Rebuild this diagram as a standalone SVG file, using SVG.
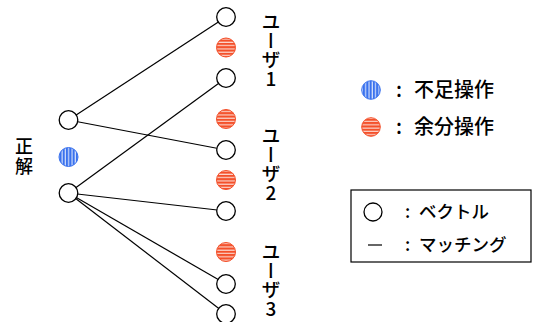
<svg xmlns="http://www.w3.org/2000/svg" width="533" height="322" viewBox="0 0 533 322">
<defs>
<pattern id="hstripe" width="4" height="3.3" patternUnits="userSpaceOnUse">
<rect width="4" height="3.3" fill="#f4502a"/>
<rect y="2.2" width="4" height="0.9" fill="#ffffff"/>
</pattern>
<pattern id="vstripe" width="3.3" height="4" patternUnits="userSpaceOnUse">
<rect width="3.3" height="4" fill="#3a72ee"/>
<rect x="2.2" width="0.9" height="4" fill="#ffffff"/>
</pattern>
</defs>
<style>
.vec{fill:#ffffff;stroke:#000000;stroke-width:1.3}
.red{fill:url(#hstripe);stroke:#f4502a;stroke-width:1}
.blue{fill:url(#vstripe);stroke:#3a72ee;stroke-width:1}
.conn line{stroke:#000000;stroke-width:1.2}
.t{font-family:"Noto Sans CJK JP","Liberation Sans",sans-serif;font-weight:500;fill:#000000}
.vt{font-family:"Noto Sans CJK JP","Liberation Sans",sans-serif;font-weight:500;font-size:19px;writing-mode:vertical-rl;text-orientation:upright;fill:#000000}
</style>
<rect width="533" height="322" fill="#ffffff"/>
<g id="connectors" class="conn">
<line x1="68.5" y1="120" x2="226" y2="17"/>
<line x1="68.5" y1="120" x2="226" y2="150"/>
<line x1="68.5" y1="193" x2="226" y2="78"/>
<line x1="68.5" y1="193" x2="226" y2="211"/>
<line x1="68.5" y1="193" x2="226" y2="284"/>
<line x1="68.5" y1="193" x2="226" y2="314"/>
</g>
<g id="answer-label"><text class="vt" style="font-size:18px;letter-spacing:2px" x="24" y="137">正解</text></g>
<g id="L1"><circle class="vec" cx="68.5" cy="120" r="9.3"/></g>
<g id="L-missing"><circle class="blue" cx="68.5" cy="157" r="9.5"/></g>
<g id="L2"><circle class="vec" cx="68.5" cy="193" r="9.3"/></g>
<g id="R1"><circle class="vec" cx="226" cy="17" r="9.3"/></g>
<g id="R-extra1"><circle class="red" cx="226" cy="47.5" r="9.5"/></g>
<g id="R2"><circle class="vec" cx="226" cy="78" r="9.3"/></g>
<g id="R-extra2"><circle class="red" cx="226" cy="119" r="9.5"/></g>
<g id="R3"><circle class="vec" cx="226" cy="150" r="9.3"/></g>
<g id="R-extra3"><circle class="red" cx="226" cy="180" r="9.5"/></g>
<g id="R4"><circle class="vec" cx="226" cy="211" r="9.3"/></g>
<g id="R-extra4"><circle class="red" cx="226" cy="252" r="9.5"/></g>
<g id="R5"><circle class="vec" cx="226" cy="284" r="9.3"/></g>
<g id="R6"><circle class="vec" cx="226" cy="314" r="9.3"/></g>
<g id="user1"><text class="vt" x="271" y="12">ユーザ1</text></g>
<g id="user2"><text class="vt" x="271" y="126.5">ユーザ2</text></g>
<g id="user3"><text class="vt" x="271" y="242.5">ユーザ3</text></g>
<g id="legend-ops">
<circle class="blue" cx="371" cy="90" r="9.3"/>
<text class="t" font-size="20" x="396" y="97">:</text>
<text class="t" font-size="20" x="414" y="97">不足操作</text>
<circle class="red" cx="371" cy="127" r="9.3"/>
<text class="t" font-size="20" x="396" y="134">:</text>
<text class="t" font-size="20" x="414" y="134">余分操作</text>
</g>
<g id="legend-box">
<rect x="351" y="190" width="180" height="72" fill="#ffffff" stroke="#000000" stroke-width="1.2"/>
<circle class="vec" cx="373" cy="212" r="9"/>
<text class="t" font-size="17.5" x="405" y="218">:</text>
<text class="t" font-size="17.5" x="419" y="218">ベクトル</text>
<line x1="368" y1="245" x2="382" y2="245" stroke="#000000" stroke-width="1.2"/>
<text class="t" font-size="17.5" x="405" y="251">:</text>
<text class="t" font-size="17.5" x="419" y="251">マッチング</text>
</g>
</svg>
